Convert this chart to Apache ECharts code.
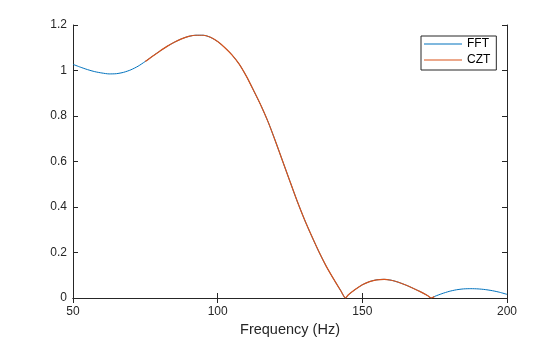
<!DOCTYPE html>
<html><head><meta charset="utf-8">
<script src="https://cdn.jsdelivr.net/npm/echarts@6/dist/echarts.min.js"></script>
<style>html,body{margin:0;padding:0;background:#fff}#c{width:560px;height:337px}</style>
</head><body><div id="c"></div>
<script>
const fftFreq = [50,52.5,55,57.5,60,62.5,65,67.5,70,72.5,75,77.5,80,82.5,85,87.5,90,92.5,95,97.5,100,102.5,105,107.5,110,112.5,115,117.5,120,122.5,125,127.5,130,132.5,135,137.5,140,142.5,144.2,145,147.5,150,152.5,155,157.5,160,162.5,165,167.5,170,172.5,173.8,175,177.5,180,182.5,185,187.5,190,192.5,195,197.5,200];
const fftMag = [1.027,1.015,1.004,0.995,0.989,0.985,0.986,0.992,1.003,1.019,1.040,1.063,1.085,1.106,1.124,1.139,1.150,1.155,1.155,1.146,1.127,1.100,1.068,1.027,0.973,0.910,0.845,0.772,0.688,0.600,0.512,0.425,0.345,0.272,0.203,0.140,0.085,0.033,0,0.012,0.037,0.058,0.072,0.080,0.082,0.078,0.069,0.057,0.043,0.028,0.011,0,0.007,0.019,0.029,0.036,0.040,0.041,0.040,0.037,0.032,0.025,0.016];
const cztFreq = [75,77.5,80,82.5,85,87.5,90,92.5,95,97.5,100,102.5,105,107.5,110,112.5,115,117.5,120,122.5,125,127.5,130,132.5,135,137.5,140,142.5,144.2,145,147.5,150,152.5,155,157.5,160,162.5,165,167.5,170,172.5,173.8,174.9];
const cztMag = [1.040,1.063,1.085,1.106,1.124,1.139,1.150,1.155,1.155,1.146,1.127,1.100,1.068,1.027,0.973,0.910,0.845,0.772,0.688,0.600,0.512,0.425,0.345,0.272,0.203,0.140,0.085,0.033,0,0.012,0.037,0.058,0.072,0.080,0.082,0.078,0.069,0.057,0.043,0.028,0.011,0,0.006];
const xTicks = [50,100,150,200];
const xTickLabels = ['50','100','150','200'];
const yTicks = [0,0.2,0.4,0.6,0.8,1,1.2];
const yTickLabels = ['0','0.2','0.4','0.6','0.8','1','1.2'];
const seriesNames = ['FFT','CZT'];
const xLabel = 'Frequency (Hz)';

const FONT = '"Liberation Sans", Arial, Helvetica, sans-serif';
const AX = '#262626';
const BLUE = '#0072BD', ORANGE = '#D95319';
function lbl(ticks, labels){ return v => { const i = ticks.findIndex(t => Math.abs(t - v) < 1e-9); return i >= 0 ? labels[i] : ''; }; }
const axisCommon = {
  axisLine:{show:true,lineStyle:{color:AX,width:1}},
  axisTick:{show:true,inside:true,length:5,lineStyle:{color:AX,width:1}},
  splitLine:{show:false}
};
const chart = echarts.init(document.getElementById('c'), null, {renderer:'canvas'});
chart.setOption({
  animation:false,
  backgroundColor:'#fff',
  grid:{left:73,right:53,top:25,bottom:39,containLabel:false,outerBoundsMode:'none'},
  xAxis:[
    Object.assign({type:'value',position:'bottom',min:xTicks[0],max:xTicks[xTicks.length-1],interval:50,
      axisLabel:{show:true,margin:8,fontSize:12,color:AX,fontFamily:FONT,formatter:lbl(xTicks,xTickLabels)},
      name:xLabel,nameLocation:'middle',nameGap:20,nameTextStyle:{fontSize:14.5,color:AX,fontFamily:FONT}},axisCommon),
    Object.assign({type:'value',position:'top',min:xTicks[0],max:xTicks[xTicks.length-1],interval:50,axisLabel:{show:false}},axisCommon)
  ],
  yAxis:[
    Object.assign({type:'value',position:'left',min:0,max:1.2,interval:0.2,
      axisLabel:{show:true,margin:6,fontSize:12,color:AX,fontFamily:FONT,formatter:lbl(yTicks,yTickLabels)}},axisCommon),
    Object.assign({type:'value',position:'right',min:0,max:1.2,interval:0.2,axisLabel:{show:false}},axisCommon)
  ],
  legend:{
    data:seriesNames,orient:'vertical',left:421,top:36,
    icon:'rect',itemWidth:38,itemHeight:1,itemGap:2,
    padding:[1,6,3,3],borderColor:AX,borderWidth:1,backgroundColor:'#fff',
    textStyle:{fontSize:12,color:'#000',lineHeight:14,fontFamily:FONT}
  },
  series:[
    {name:seriesNames[0],type:'line',xAxisIndex:0,yAxisIndex:0,showSymbol:false,symbol:'none',smooth:0.25,
     data:fftFreq.map((f,i)=>[f,fftMag[i]]),lineStyle:{color:BLUE,width:1.0},itemStyle:{color:BLUE},z:2},
    {name:seriesNames[1],type:'line',xAxisIndex:0,yAxisIndex:0,showSymbol:false,symbol:'none',smooth:0.25,
     data:cztFreq.map((f,i)=>[f,cztMag[i]]),lineStyle:{color:ORANGE,width:1.2},itemStyle:{color:ORANGE},z:3}
  ]
});
</script></body></html>
